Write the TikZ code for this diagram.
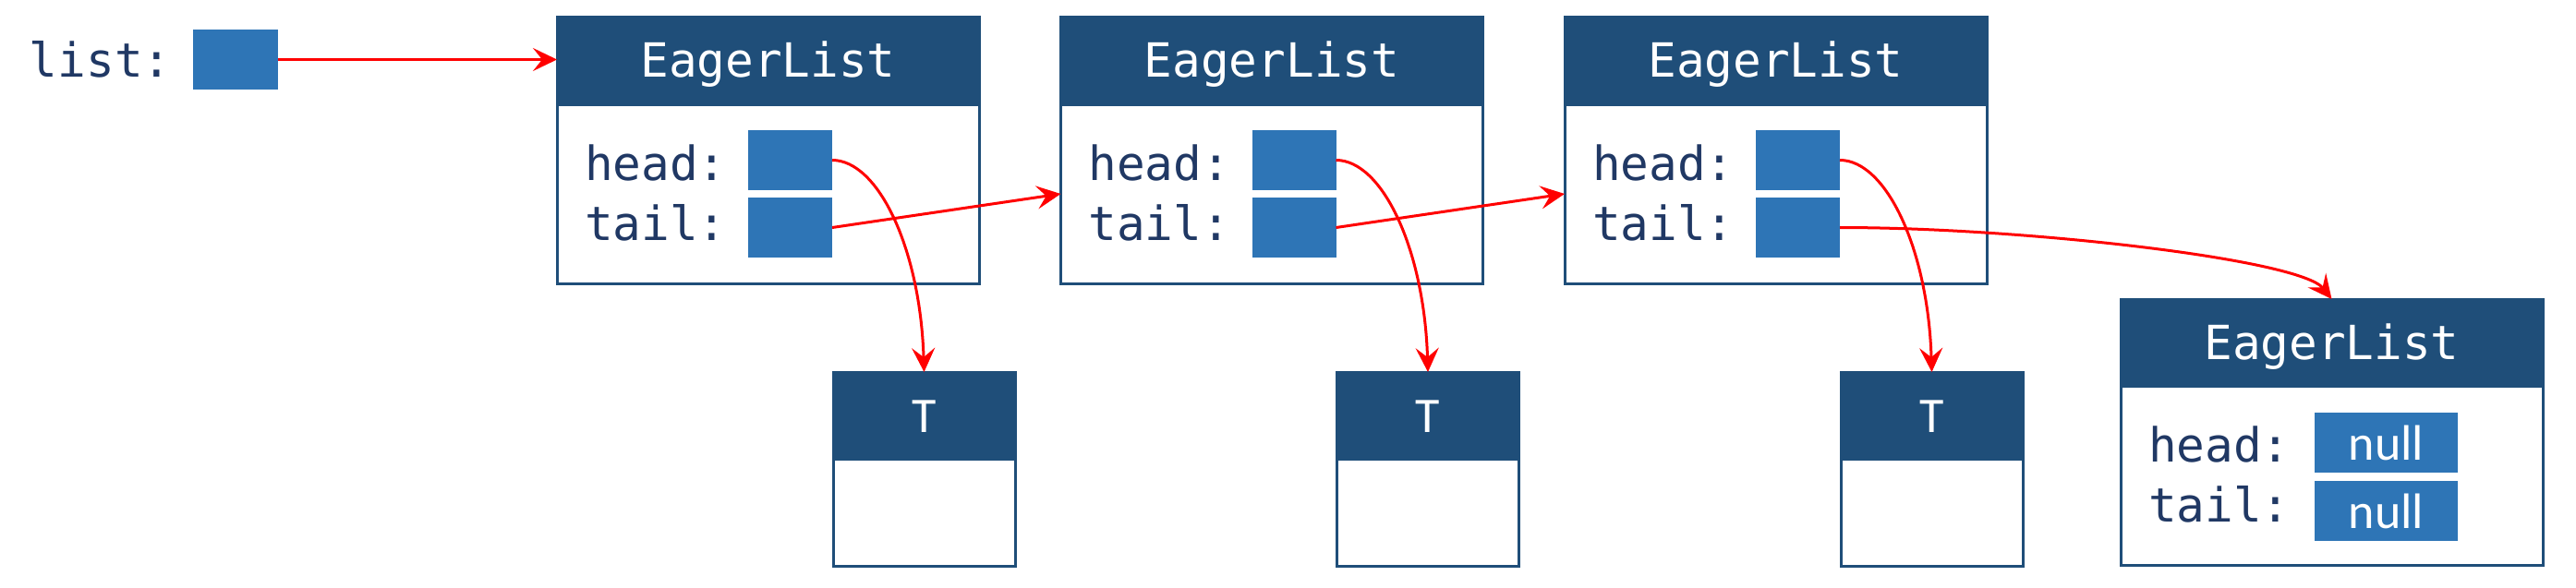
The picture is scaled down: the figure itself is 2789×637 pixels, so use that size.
\documentclass[tikz,border=0pt]{standalone}
\usepackage{fontspec}
\newfontfamily\monof{DejaVu Sans Mono}
\newfontfamily\sansf{Carlito}
\usetikzlibrary{arrows.meta}
\definecolor{hdrblue}{HTML}{1F4E79}
\definecolor{ptrblue}{HTML}{2E75B6}
\definecolor{lblcol}{HTML}{203864}
\begin{document}
\begin{tikzpicture}[x=0.5pt,y=-0.5pt,
  every node/.style={inner sep=0pt, outer sep=0pt},
  frame/.style={draw=hdrblue, line width=1.5pt, anchor=north west},
  hdrbox/.style={frame, fill=hdrblue},
  bodybox/.style={frame, fill=white},
  ptr/.style={fill=ptrblue, anchor=north west, minimum width=45.5pt, minimum height=32.5pt},
  nullptr/.style={fill=ptrblue, anchor=north west, minimum width=77.5pt, minimum height=32.5pt,
    text=white, font=\sansf\fontsize{27}{32}\selectfont},
  mono/.style={font=\monof\fontsize{25.5}{30}\selectfont},
  lbl/.style={mono, text=lblcol, anchor=base west},
  title/.style={mono, text=white, anchor=base},
  stitle/.style={font=\sansf\fontsize{27}{32}\selectfont, text=white, anchor=base},
  link/.style={draw=red, line width=1.5pt, -{Stealth[length=13pt, width=12.5pt, inset=5pt]}}
]
\useasboundingbox (0,0) rectangle (2789,637);
\fill[white] (0,0) rectangle (2789,637);

% list pointer
\node[lbl] (listlbl) at (32,83) {list:};
\node[ptr, minimum width=46pt] (lp) at (209,32) {};

% EagerList 1..3 with their T boxes
\foreach \i/\x in {1/603, 2/1148.5, 3/1694} {
  \node[bodybox, minimum width=228.5pt, minimum height=97pt] (b\i) at (\x,113) {};
  \node[hdrbox, minimum width=228.5pt, minimum height=47.5pt] (h\i) at (\x,18) {};
  \node[title] (ht\i) at (\x+228.5,83) {EagerList};
  \node[lbl] (hl\i) at (\x+30,195) {head:};
  \node[lbl] (tl\i) at (\x+30,260) {tail:};
  \node[ptr] (hp\i) at (\x+207,141) {};
  \node[ptr] (tp\i) at (\x+207,214) {};
  \node[bodybox, minimum width=98.5pt, minimum height=58pt] (tb\i) at (\x+299,497) {};
  \node[hdrbox, minimum width=98.5pt, minimum height=47pt] (th\i) at (\x+299,403) {};
  \node[stitle] (tt\i) at (\x+397.5,468) {T};
}

% last EagerList
\node[bodybox, minimum width=228.5pt, minimum height=97pt] (b4) at (2296,418) {};
\node[hdrbox, minimum width=228.5pt, minimum height=47pt] (h4) at (2296,324) {};
\node[title] (ht4) at (2524.5,389) {EagerList};
\node[lbl] (hl4) at (2326,500) {head:};
\node[lbl] (tl4) at (2326,565) {tail:};
\node[nullptr] (hn4) at (2506,447) {null};
\node[nullptr] (tn4) at (2506,521) {null};

% connectors
\draw[link] (lp.east) -- (lp.east -| h1.west);
\foreach \i in {1,2,3} {
  \draw[link] (hp\i.east) .. controls +(50,0) and +(-4,-133) .. (th\i.north);
}
\draw[link] (tp1.east) -- (b2.west);
\draw[link] (tp2.east) -- (b3.west);
\draw[link] (tp3.east) .. controls +(200,0) and +(-34,-43) .. (h4.north);
\end{tikzpicture}
\end{document}
